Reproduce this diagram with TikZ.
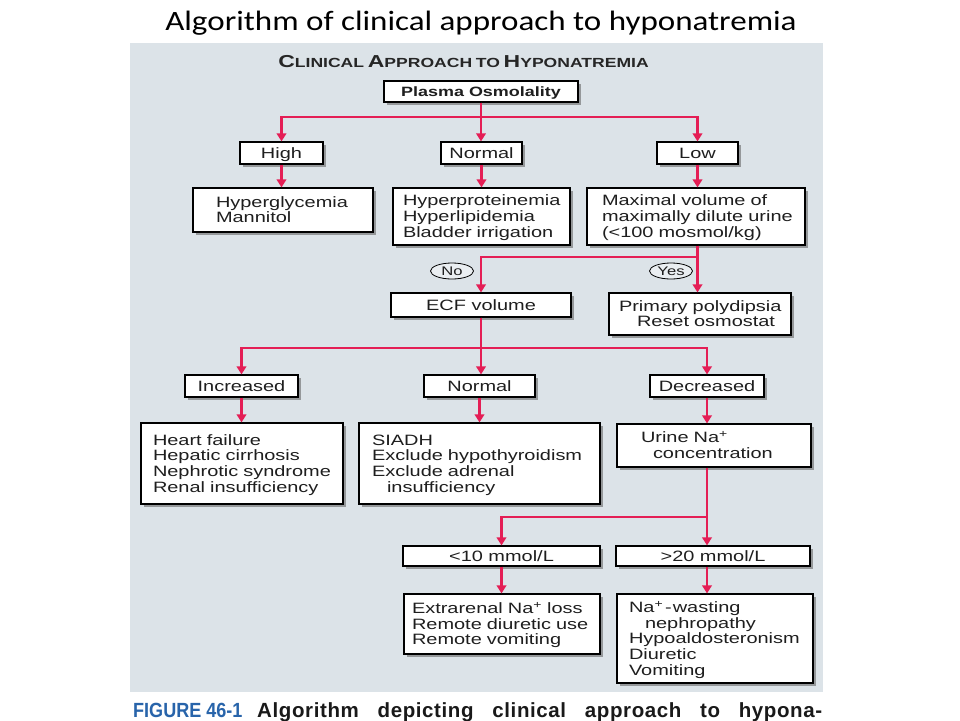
\documentclass[tikz,border=0pt]{standalone}
\usepackage{fontspec}
\setmainfont{Liberation Sans}
\newfontfamily\bxf[FakeStretch=1.33]{Liberation Sans}
\newfontfamily\titlef[FakeStretch=1.18]{Carlito}
\newfontfamily\capf[FakeStretch=0.88]{Liberation Sans}
\newfontfamily\capg[LetterSpace=3]{Liberation Sans}
\usetikzlibrary{arrows.meta,shadows,calc,shapes.geometric}
\definecolor{panel}{RGB}{220,227,232}
\definecolor{flow}{RGB}{228,30,85}
\definecolor{ink}{RGB}{30,30,30}
\definecolor{figblue}{RGB}{40,100,170}
\newcommand\hsc[2]{{\fontsize{17.3}{16}\selectfont#1}{\fontsize{13.2}{16}\selectfont#2}}
\newcommand\lns[2]{\hspace*{#1}\raisebox{-2pt}[\height][\depth]{\begin{tabular}{@{}l@{}}#2\end{tabular}}}
\begin{document}
\begin{tikzpicture}[x=1pt,y=-1pt,
  box/.style={draw=black, line width=1.2pt, fill=white, text=ink,
    font=\bxf\fontsize{15}{15.7}\selectfont,
    drop shadow={shadow xshift=2.5pt, shadow yshift=-2.5pt, fill=black!60, opacity=0.6},
    inner sep=0pt},
  tbox/.style={box, align=left, inner xsep=0pt},
  cbox/.style={box, align=center, text height=10.7pt, text depth=0pt},
  ell/.style={draw=black, line width=0.8pt, ellipse, fill=white!40!panel, inner sep=0pt,
    minimum width=43pt, minimum height=16pt, text=ink, text height=9pt, text depth=0pt,
    font=\bxf\fontsize{12.5}{12}\selectfont},
  arr/.style={draw=flow, line width=2.6pt, -{Triangle[width=9.5pt,length=8pt]}},
  plain/.style={inner sep=0pt}
]
\useasboundingbox (0,0) rectangle (960,720);
\fill[white] (0,0) rectangle (960,720);
\fill[panel] (130,43) rectangle (823,692);

% titles
\node[plain, anchor=base] (title) at (481,30) {\titlef\fontsize{28}{28}\selectfont Algorithm of clinical approach to hyponatremia};
\node[plain, anchor=base, text={black!85}] (head) at (463.5,67) {\bxf\bfseries\hsc{C}{LINICAL} \hsc{A}{PPROACH} \hsc{}{TO} \hsc{H}{YPONATREMIA}};

% level 1
\node[cbox, minimum width=194pt, minimum height=21pt, text height=9.7pt, font=\bxf\bfseries\fontsize{13.5}{14}\selectfont] (plasma) at (481,91.5) {Plasma Osmolality};
\node[cbox, minimum width=83pt, minimum height=22pt] (high) at (281.5,153) {High};
\node[cbox, minimum width=81pt, minimum height=22pt] (normal) at (481.5,153) {Normal};
\node[cbox, minimum width=81pt, minimum height=22pt] (low) at (697.5,153) {Low};

\node[tbox, text width=180pt, minimum height=44pt] (hyperg) at (283,210) {\lns{23pt}{Hyperglycemia\\Mannitol}};
\node[tbox, text width=177pt, minimum height=57pt] (hyperp) at (481.5,216.5) {\lns{10pt}{Hyperproteinemia\\Hyperlipidemia\\Bladder irrigation}};
\node[tbox, text width=218pt, minimum height=57pt] (maxvol) at (696,216.5) {\lns{15pt}{Maximal volume of\\maximally dilute urine\\(<100 mosmol/kg)}};

\node[ell] (no) at (452,271) {No};
\node[ell] (yes) at (671,271) {Yes};

\node[cbox, minimum width=180pt, minimum height=24pt] (ecf) at (481,305) {ECF volume};
\node[tbox, text width=182pt, minimum height=42pt] (prim) at (700,314) {\lns{10pt}{Primary polydipsia\\\hspace*{18pt}Reset osmostat}};

\node[cbox, minimum width=113pt, minimum height=22pt] (incr) at (241.5,386) {Increased};
\node[cbox, minimum width=111pt, minimum height=22pt] (norm2) at (479.5,386) {Normal};
\node[cbox, minimum width=114pt, minimum height=22pt] (decr) at (707,386) {Decreased};

\node[tbox, text width=202pt, minimum height=81pt] (heart) at (242,463.5) {\lns{12pt}{Heart failure\\Hepatic cirrhosis\\Nephrotic syndrome\\Renal insufficiency}};
\node[tbox, text width=241pt, minimum height=81pt] (siadh) at (479.5,463.5) {\lns{13pt}{SIADH\\Exclude hypothyroidism\\Exclude adrenal\\\hspace*{15pt}insufficiency}};
\node[tbox, text width=194pt, minimum height=43pt] (urine) at (714,445.5) {\lns{24pt}{Urine Na\textsuperscript{+}\\\hspace*{12pt}concentration}};

\node[cbox, minimum width=197pt, minimum height=20pt] (lt10) at (501.5,556) {<10 mmol/L};
\node[cbox, minimum width=194pt, minimum height=20pt] (gt20) at (713,556) {>20 mmol/L};

\node[tbox, text width=196pt, minimum height=60pt] (extra) at (502,624) {\lns{8pt}{Extrarenal Na\textsuperscript{+} loss\\Remote diuretic use\\Remote vomiting}};
\node[tbox, text width=196pt, minimum height=89pt] (nawaste) at (715,638.5) {\lns{12pt}{Na\textsuperscript{+}\kern2pt-\kern1pt wasting\\\hspace*{16pt}nephropathy\\Hypoaldosteronism\\Diuretic\\Vomiting}};

% bus lines
\coordinate (bus1) at (0,117);
\coordinate (bus2) at (0,257);
\coordinate (bus3) at (0,348);
\coordinate (bus4) at (0,517);

\draw[arr] (plasma.south) -- (plasma.south |- bus1) -| (high.north);
\draw[arr] (plasma.south) -- (plasma.south |- bus1) -| (low.north);
\draw[arr] (plasma.south) -- (plasma.south |- normal.north);

\draw[arr] (high.south) -- (high.south |- hyperg.north);
\draw[arr] (normal.south) -- (normal.south |- hyperp.north);
\draw[arr] (low.south) -- (low.south |- maxvol.north);

\draw[arr] (low.south |- maxvol.south) -- (low.south |- bus2) -| (ecf.north);
\draw[arr] (low.south |- maxvol.south) -- (low.south |- prim.north);

\draw[arr] (ecf.south) -- (ecf.south |- bus3) -| (incr.north);
\draw[arr] (ecf.south) -- (ecf.south |- bus3) -| (decr.north);
\draw[arr] (ecf.south) -- (ecf.south |- norm2.north);

\draw[arr] (incr.south) -- (incr.south |- heart.north);
\draw[arr] (norm2.south) -- (norm2.south |- siadh.north);
\draw[arr] (decr.south) -- (decr.south |- urine.north);

\draw[arr] (decr.south |- urine.south) -- (decr.south |- bus4) -| (lt10.north);
\draw[arr] (decr.south |- urine.south) -- (decr.south |- gt20.north);
\draw[arr] (lt10.south) -- (lt10.south |- extra.north);
\draw[arr] (decr.south |- gt20.south) -- (decr.south |- nawaste.north);

% caption
\node[plain, anchor=base west, text=figblue] (fig) at (133,717) {\capf\bfseries\fontsize{20.5}{21}\selectfont FIGURE 46-1};
\node[plain, anchor=base west, text={black!90}] (captxt) at (257,717) {\capg\bfseries\fontsize{20.5}{21}\selectfont\makebox[565pt][s]{Algorithm depicting clinical approach to hypona-}};
\end{tikzpicture}
\end{document}
